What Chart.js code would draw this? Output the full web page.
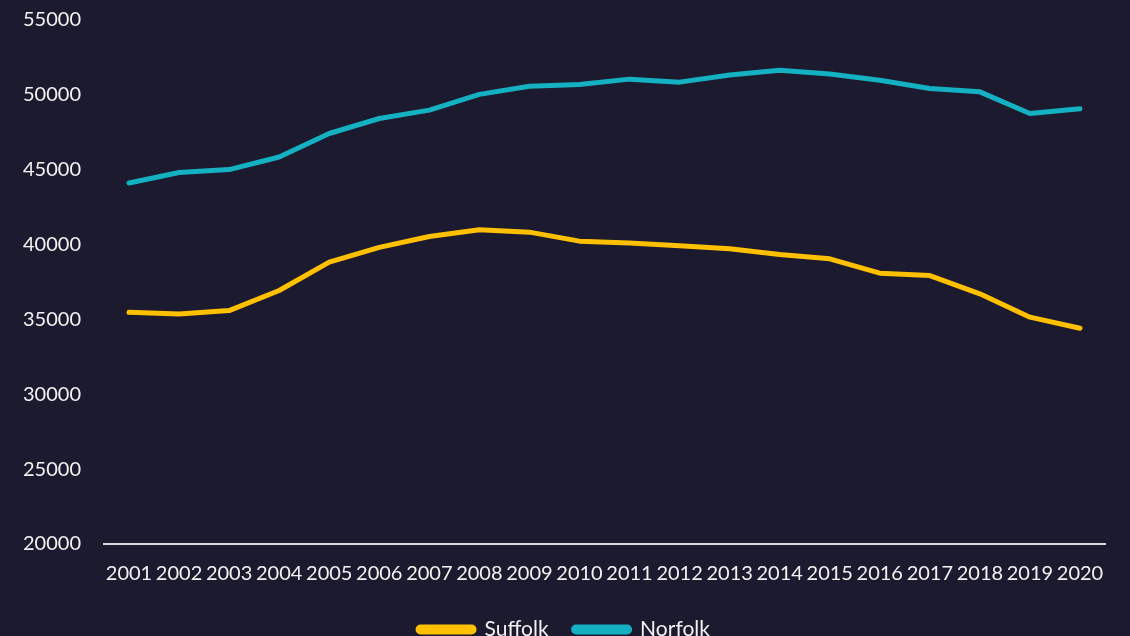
<!DOCTYPE html>
<html>
<head>
<meta charset="utf-8">
<script src="https://cdn.jsdelivr.net/npm/chart.js@4/dist/chart.umd.min.js"></script>
<style>
  html, body { margin: 0; padding: 0; background: #1c1a2e; overflow: hidden; }
  #wrap { position: relative; width: 1130px; height: 650px; }
</style>
</head>
<body>
<div id="wrap"><canvas id="c"></canvas></div>
<script>
const years = ["2001","2002","2003","2004","2005","2006","2007","2008","2009","2010","2011","2012","2013","2014","2015","2016","2017","2018","2019","2020"];
const suffolk = [35480,35370,35590,36930,38830,39810,40540,40990,40830,40230,40100,39920,39720,39340,39050,38090,37930,36710,35150,34410];
const norfolk = [44110,44810,45010,45850,47420,48420,48980,50030,50580,50690,51050,50850,51320,51650,51390,50980,50430,50200,48750,49070];
const yMin = 20000, yMax = 55000, yStep = 5000;

const FONT = "Lato, 'Open Sans', sans-serif";
const TEXT = "#f2f2f2";

new Chart(document.getElementById('c'), {
  type: 'line',
  data: {
    labels: years,
    datasets: [
      { label: 'Suffolk', data: suffolk, borderColor: '#ffc000', backgroundColor: '#ffc000',
        borderWidth: 5, pointRadius: 0, tension: 0, borderCapStyle: 'round', borderJoinStyle: 'round' },
      { label: 'Norfolk', data: norfolk, borderColor: '#13b1c1', backgroundColor: '#13b1c1',
        borderWidth: 5, pointRadius: 0, tension: 0, borderCapStyle: 'round', borderJoinStyle: 'round' }
    ]
  },
  options: {
    responsive: true,
    maintainAspectRatio: false,
    animation: false,
    layout: { padding: { left: 23, right: 25, top: 20, bottom: 0 } },
    plugins: {
      tooltip: { enabled: false },
      legend: {
        position: 'bottom',
        labels: {
          color: TEXT,
          font: { family: FONT, size: 21 },
          boxWidth: 56,
          boxHeight: 5,
          useBorderRadius: true,
          borderRadius: 2.5,
          padding: 25
        }
      }
    },
    scales: {
      x: {
        offset: true,
        grid: { display: true, drawOnChartArea: false, drawTicks: true, tickLength: 18, color: 'rgba(0,0,0,0)', tickColor: 'rgba(0,0,0,0)' },
        border: { display: true, color: '#d9d9d9', width: 2 },
        ticks: { color: TEXT, font: { family: FONT, size: 20 }, padding: 0, autoSkip: false, maxRotation: 0 },
        afterFit: s => { s.height += 8; }
      },
      y: {
        min: yMin, max: yMax,
        grid: { display: true, drawOnChartArea: false, drawTicks: true, tickLength: 23, color: 'rgba(0,0,0,0)', tickColor: 'rgba(0,0,0,0)' },
        border: { display: false },
        ticks: { stepSize: yStep, color: TEXT, font: { family: FONT, size: 20 }, padding: 0,
                 callback: v => String(v) }
      }
    }
  }
});
</script>
</body>
</html>
